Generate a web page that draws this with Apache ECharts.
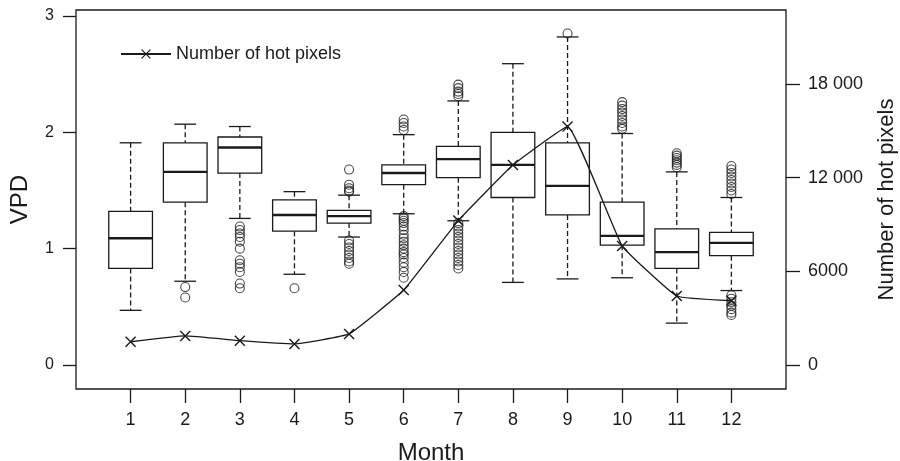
<!DOCTYPE html>
<html>
<head>
<meta charset="utf-8">
<script src="https://cdn.jsdelivr.net/npm/echarts@6/dist/echarts.min.js"></script>
<style>
  html, body { margin: 0; padding: 0; background: #fff; }
  #chart { width: 900px; height: 461px; }
</style>
</head>
<body>
<div id="chart"></div>
<script>
// VPD box statistics per month
const months = [1, 2, 3, 4, 5, 6, 7, 8, 9, 10, 11, 12]
const vpdMin = [0.47, 0.72, 1.26, 0.78, 1.10, 1.30, 1.24, 0.71, 0.74, 0.75, 0.36, 0.64]
const vpdQ1 = [0.83, 1.40, 1.65, 1.15, 1.22, 1.55, 1.61, 1.44, 1.29, 1.03, 0.83, 0.94]
const vpdMedian = [1.09, 1.66, 1.87, 1.29, 1.28, 1.65, 1.77, 1.72, 1.54, 1.11, 0.97, 1.05]
const vpdQ3 = [1.32, 1.91, 1.96, 1.42, 1.33, 1.72, 1.88, 2.00, 1.91, 1.40, 1.17, 1.14]
const vpdMax = [1.91, 2.07, 2.05, 1.49, 1.46, 1.98, 2.27, 2.59, 2.82, 1.99, 1.66, 1.44]
const vpdOutliers = [
  [],
  [0.67, 0.58],
  [1.19, 1.16, 1.13, 1.10, 1.06, 1.00, 0.90, 0.87, 0.84, 0.80, 0.70, 0.66],
  [0.66],
  [1.68, 1.55, 1.52, 1.50, 1.49, 1.07, 1.04, 1.01, 0.98, 0.95, 0.92, 0.89, 0.87],
  [2.11, 2.08, 2.05, 2.02, 1.28, 1.26, 1.24, 1.22, 1.19, 1.16, 1.12, 1.09, 1.06, 1.03, 1.00, 0.97, 0.95, 0.92, 0.88, 0.84, 0.80, 0.75],
  [2.41, 2.38, 2.35, 2.33, 2.31, 1.22, 1.19, 1.16, 1.13, 1.10, 1.07, 1.04, 1.01, 0.98, 0.95, 0.92, 0.89, 0.86, 0.83],
  [],
  [2.85],
  [2.26, 2.23, 2.20, 2.17, 2.14, 2.11, 2.08, 2.05, 2.03],
  [1.82, 1.80, 1.78, 1.76, 1.74, 1.72, 1.70],
  [1.71, 1.68, 1.65, 1.62, 1.59, 1.56, 1.53, 1.50, 1.47, 0.60, 0.57, 0.54, 0.51, 0.48, 0.45, 0.43]
]
// number of hot pixels per month (right axis)
const hotPixels = [1490, 1860, 1560, 1350, 1990, 4800, 9250, 12810, 15270, 7630, 4420, 4120]

const xTicks = months
const vpdTicks = [0, 1, 2, 3]
const hotTicks = [0, 6000, 12000, 18000]

const ink = '#1a1a1a'
const font = 'Liberation Sans, Arial, sans-serif'

const boxData = months.map((m, i) => [m, vpdMin[i], vpdQ1[i], vpdMedian[i], vpdQ3[i], vpdMax[i]])
const outlierData = []
months.forEach((m, i) => {
  vpdOutliers[i].forEach(v => outlierData.push([m, v]))
})
const lineData = months.map((m, i) => [m, hotPixels[i]])

function renderBox(params, api) {
  const x = api.value(0)
  const lo = api.coord([x, api.value(1)])
  const q1 = api.coord([x, api.value(2)])
  const md = api.coord([x, api.value(3)])
  const q3 = api.coord([x, api.value(4)])
  const hi = api.coord([x, api.value(5)])
  const bw = api.size([1, 0])[0] * 0.8
  const cx = lo[0]
  const solid = { stroke: ink, lineWidth: 1.3 }
  const dashed = { stroke: ink, lineWidth: 1.3, lineDash: [5, 3] }
  return {
    type: 'group',
    children: [
      { type: 'line', shape: { x1: cx, y1: hi[1], x2: cx, y2: q3[1] }, style: dashed },
      { type: 'line', shape: { x1: cx, y1: q1[1], x2: cx, y2: lo[1] }, style: dashed },
      { type: 'line', shape: { x1: cx - bw / 4, y1: hi[1], x2: cx + bw / 4, y2: hi[1] }, style: solid },
      { type: 'line', shape: { x1: cx - bw / 4, y1: lo[1], x2: cx + bw / 4, y2: lo[1] }, style: solid },
      { type: 'rect', shape: { x: cx - bw / 2, y: q3[1], width: bw, height: q1[1] - q3[1] }, style: { fill: '#fff', stroke: ink, lineWidth: 1.3 } },
      { type: 'line', shape: { x1: cx - bw / 2, y1: md[1], x2: cx + bw / 2, y2: md[1] }, style: { stroke: ink, lineWidth: 2.4 } }
    ]
  }
}

const crossSymbol = 'path://M0,0.9L0.9,0L10,9.1L9.1,10ZM9.1,0L10,0.9L0.9,10L0,9.1Z'

const chart = echarts.init(document.getElementById('chart'))
chart.setOption({
  animation: false,
  backgroundColor: '#fff',
  textStyle: { fontFamily: font, color: ink },
  grid: {
    left: 76, top: 10, right: 114, bottom: 72,
    containLabel: false, outerBoundsMode: 'none',
    show: true, borderColor: ink, borderWidth: 1.3, backgroundColor: 'transparent'
  },
  legend: {
    data: ['Number of hot pixels'],
    left: 115, top: 40,
    itemWidth: 50, itemHeight: 12, itemGap: 6,
    textStyle: { fontSize: 18, color: ink, fontFamily: font }
  },
  xAxis: {
    type: 'value', min: 0, max: 13,
    name: 'Month', nameLocation: 'middle', nameGap: 52,
    nameTextStyle: { fontSize: 24, color: ink, fontFamily: font },
    axisLine: { show: false, onZero: false },
    axisTick: { show: true, length: 14, customValues: xTicks, lineStyle: { color: ink, width: 1.3 } },
    axisLabel: { customValues: xTicks, fontSize: 18, color: ink, margin: 22 },
    splitLine: { show: false }
  },
  yAxis: [{
    type: 'value', min: -0.2063, max: 3.0516, position: 'left',
    name: 'VPD', nameLocation: 'middle', nameGap: 44, nameRotate: 90,
    nameTextStyle: { fontSize: 24, color: ink, fontFamily: font },
    axisLine: { show: false, onZero: false },
    axisTick: { show: true, length: 13, customValues: vpdTicks, lineStyle: { color: ink, width: 1.3 } },
    axisLabel: { customValues: vpdTicks, fontSize: 16, color: ink, margin: 22 },
    splitLine: { show: false }
  }, {
    type: 'value', min: -1537, max: 22740, position: 'right',
    name: 'Number of hot pixels', nameLocation: 'middle', nameGap: 90, nameRotate: 90,
    nameTextStyle: { fontSize: 22, color: ink, fontFamily: font },
    axisLine: { show: false, onZero: false },
    axisTick: { show: true, length: 14, customValues: hotTicks, lineStyle: { color: ink, width: 1.3 } },
    axisLabel: {
      customValues: hotTicks, fontSize: 18, color: ink, margin: 22,
      formatter: v => v >= 10000 ? String(v).replace(/(\d)(?=(\d{3})$)/, '$1 ') : String(v)
    },
    splitLine: { show: false }
  }],
  series: [
    {
      name: 'VPD',
      type: 'custom',
      renderItem: renderBox,
      encode: { x: 0, y: [1, 2, 3, 4, 5] },
      data: boxData,
      z: 2,
      silent: true
    },
    {
      name: 'Outliers',
      type: 'scatter',
      data: outlierData,
      symbol: 'circle',
      symbolSize: 9,
      itemStyle: { color: 'transparent', borderColor: ink, borderWidth: 1.1 },
      z: 3,
      silent: true
    },
    {
      name: 'Number of hot pixels',
      type: 'line',
      yAxisIndex: 1,
      data: lineData,
      smooth: 0.1,
      symbol: crossSymbol,
      symbolSize: 11,
      showAllSymbol: true,
      lineStyle: { color: ink, width: 1.3 },
      itemStyle: { color: ink },
      z: 4,
      silent: true
    }
  ]
})
window.addEventListener('resize', function() {
  chart.resize()
})
</script>
</body>
</html>
